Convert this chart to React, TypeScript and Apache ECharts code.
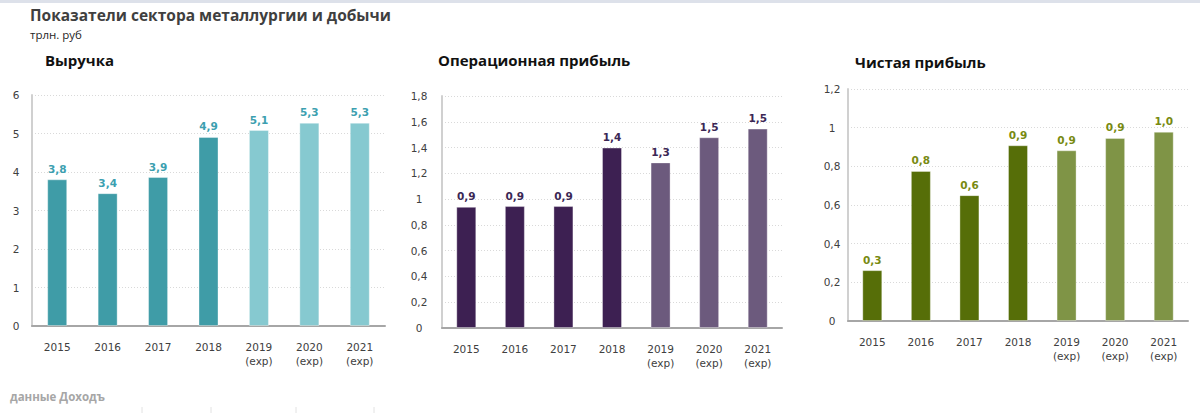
import React, { useEffect, useRef } from "react";
import * as echarts from "echarts";

const categories = ["2015", "2016", "2017", "2018", "2019\n(exp)", "2020\n(exp)", "2021\n(exp)"];
const revenue = [3.81, 3.45, 3.87, 4.91, 5.09, 5.28, 5.28];
const revenueLabels = ["3,8", "3,4", "3,9", "4,9", "5,1", "5,3", "5,3"];
const opProfit = [0.94, 0.946, 0.946, 1.4, 1.285, 1.48, 1.547];
const opProfitLabels = ["0,9", "0,9", "0,9", "1,4", "1,3", "1,5", "1,5"];
const netProfit = [0.263, 0.776, 0.651, 0.909, 0.883, 0.947, 0.979];
const netProfitLabels = ["0,3", "0,8", "0,6", "0,9", "0,9", "0,9", "1,0"];
const forecastFrom = 4;

const FONT = "'DejaVu Sans', Verdana, sans-serif";
const TITLE_FONT = "'Open Sans', 'Noto Sans', sans-serif";

function fmt(v: number) {
  return String(Math.round(v * 10) / 10).replace(".", ",");
}

export default function App() {
  const ref = useRef<HTMLDivElement>(null);
  useEffect(() => {
    document.body.style.margin = "0";
    const chart = echarts.init(ref.current!, null, { renderer: "svg" });

    const panels = [
      { data: revenue, labels: revenueLabels, max: 6, interval: 1, dark: "#3f9ca7", light: "#86c9d0", labelColor: "#3c9fb0",
        grid: { left: 32, right: 815, top: 95, bottom: 87 }, margin: 16 },
      { data: opProfit, labels: opProfitLabels, max: 1.8, interval: 0.2, dark: "#3d2052", light: "#6c5a7d", labelColor: "#3b2755",
        grid: { left: 442, right: 418, top: 96, bottom: 85 }, margin: 23 },
      { data: netProfit, labels: netProfitLabels, max: 1.2, interval: 0.2, dark: "#566e08", light: "#7f9446", labelColor: "#788a12",
        grid: { left: 848, right: 12, top: 89, bottom: 92 }, margin: 16 },
    ];

    const option: any = {
      animation: false,
      grid: panels.map((p) => ({ ...p.grid, containLabel: false })),
      xAxis: panels.map((p, i) => ({
        type: "category",
        gridIndex: i,
        data: categories,
        axisLine: { lineStyle: { color: "#a6a6a6", width: 2 } },
        axisTick: { show: false },
        axisLabel: { color: "#404040", fontFamily: FONT, fontSize: 10.5, margin: 14, lineHeight: 14 },
        splitLine: { show: false },
      })),
      yAxis: panels.map((p, i) => ({
        type: "value",
        gridIndex: i,
        min: 0,
        max: p.max,
        interval: p.interval,
        axisLine: { show: true, lineStyle: { color: "#d0d0d0", width: 2 } },
        axisTick: { show: false },
        axisLabel: { color: "#404040", fontFamily: FONT, fontSize: 10.5, margin: p.margin, align: "center", formatter: fmt },
        splitLine: { show: true, lineStyle: { color: "#d9d9d9", type: [1, 2], width: 1 } },
      })),
      series: panels.map((p, i) => ({
        type: "bar",
        xAxisIndex: i,
        yAxisIndex: i,
        barWidth: 20,
        data: p.data.map((v, j) => ({
          value: v,
          itemStyle: { color: j < forecastFrom ? p.dark : p.light, borderColor: "rgba(255,255,255,0.35)", borderWidth: 1 },
        })),
        label: {
          show: true,
          position: "top",
          distance: 5,
          color: p.labelColor,
          fontFamily: FONT,
          fontWeight: "bold",
          fontSize: 10.5,
          formatter: (prm: any) => p.labels[prm.dataIndex],
        },
      })),
      graphic: [
        { type: "rect", shape: { x: 0, y: 0, width: 1200, height: 3 }, style: { fill: "#dde1ea" } },
        { type: "text", x: 30, y: 7, style: { text: "Показатели сектора металлургии и добычи", font: `bold 15.5px ${TITLE_FONT}`, fill: "#3f3f3f" } },
        { type: "text", x: 30, y: 28, style: { text: "трлн. руб", font: `11.5px ${TITLE_FONT}`, fill: "#262626" } },
        { type: "text", x: 45, y: 52, style: { text: "Выручка", font: `bold 15px ${TITLE_FONT}`, fill: "#111" } },
        { type: "text", x: 438, y: 52, style: { text: "Операционная прибыль", font: `bold 15px ${TITLE_FONT}`, fill: "#111" } },
        { type: "text", x: 855, y: 54, style: { text: "Чистая прибыль", font: `bold 15px ${TITLE_FONT}`, fill: "#111" } },
        { type: "text", x: 10, y: 390, style: { text: "данные Доходъ", font: `bold 11.5px ${TITLE_FONT}`, fill: "#a6a6a6" } },
        ...[142, 211, 296, 374].map((x) => ({ type: "line", shape: { x1: x, y1: 407, x2: x, y2: 413 }, style: { stroke: "#e2e2e2", lineWidth: 1 } })),
      ],
    };
    chart.setOption(option);
    return () => chart.dispose();
  }, []);
  return <div ref={ref} style={{ position: "absolute", left: 0, top: 0, width: 1200, height: 413, background: "#fff" }} />;
}
